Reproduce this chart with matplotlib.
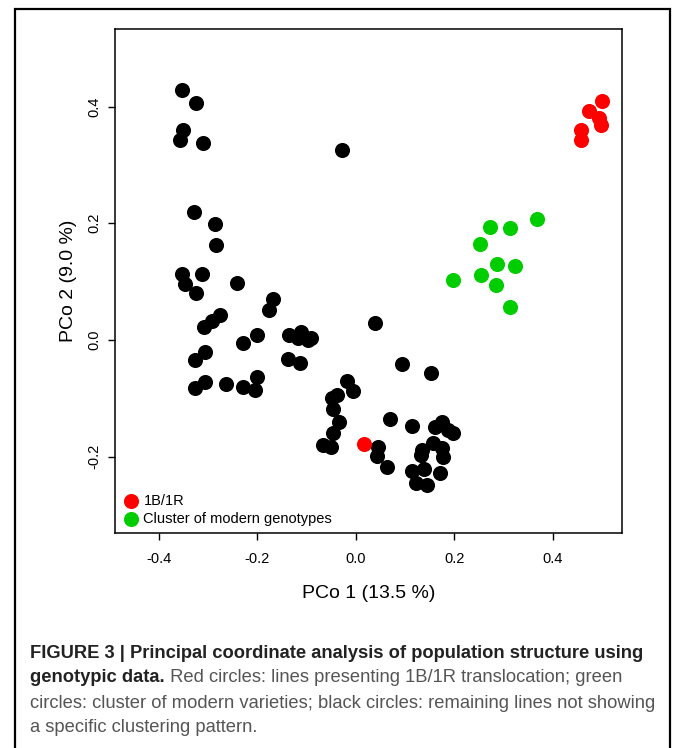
import numpy as np
import matplotlib.pyplot as plt
from matplotlib.patches import Rectangle

plt.rcParams['font.family'] = ['Liberation Sans', 'DejaVu Sans']

# PCo coordinates
black_x = [-0.354, -0.325, -0.351, -0.357, -0.310, -0.029, -0.328, -0.286, -0.283,
           -0.354, -0.347, -0.313, -0.325, -0.242, -0.169, -0.176, -0.276, -0.293,
           -0.309, 0.039, -0.200, -0.230, -0.135, -0.112, -0.117, -0.092, -0.098,
           -0.307, -0.327, -0.137, -0.114, -0.307, -0.327, -0.263, -0.229, -0.200,
           -0.205, -0.018, -0.005, -0.038, -0.049, -0.046, -0.034, -0.047, -0.066,
           -0.051, 0.093, 0.152, 0.070, 0.113, 0.045, 0.042, 0.064, 0.160, 0.174,
           0.196, 0.186, 0.157, 0.135, 0.133, 0.174, 0.177, 0.171, 0.113, 0.138,
           0.122, 0.144]
black_y = [0.429, 0.407, 0.360, 0.342, 0.337, 0.325, 0.220, 0.199, 0.163,
           0.113, 0.096, 0.113, 0.081, 0.098, 0.070, 0.051, 0.043, 0.033,
           0.022, 0.029, 0.009, -0.006, 0.009, 0.014, 0.003, 0.003, -0.001,
           -0.020, -0.034, -0.033, -0.040, -0.072, -0.083, -0.075, -0.081, -0.064,
           -0.086, -0.070, -0.087, -0.094, -0.100, -0.119, -0.140, -0.160, -0.180,
           -0.184, -0.041, -0.056, -0.136, -0.147, -0.183, -0.199, -0.218, -0.150, -0.140,
           -0.160, -0.154, -0.177, -0.189, -0.197, -0.186, -0.200, -0.229, -0.224, -0.222,
           -0.245, -0.249]

red_x = [0.499, 0.473, 0.494, 0.497, 0.457, 0.457, 0.017]
red_y = [0.409, 0.393, 0.380, 0.369, 0.360, 0.342, -0.178]

green_x = [0.368, 0.273, 0.313, 0.252, 0.287, 0.323, 0.253, 0.196, 0.284, 0.313]
green_y = [0.208, 0.194, 0.191, 0.164, 0.130, 0.127, 0.111, 0.102, 0.095, 0.057]

legend_labels = ['1B/1R', 'Cluster of modern genotypes']
xticks = [-0.4, -0.2, 0.0, 0.2, 0.4]
yticks = [-0.2, 0.0, 0.2, 0.4]

W, H = 673, 748
fig = plt.figure(figsize=(W / 100, H / 100), dpi=100)

# outer frame of the figure panel
fig.patches.append(Rectangle((15 / W, -0.02), 655 / W, 1.02 - 9 / H, transform=fig.transFigure,
                             fill=False, edgecolor='black', linewidth=1.6))

ax = fig.add_axes([115 / W, 1 - 533 / H, 507 / W, 504 / H])
ms = 118
ax.scatter(black_x, black_y, s=ms, color='black', linewidths=0)
ax.scatter(red_x, red_y, s=ms, color='#ff0000', linewidths=0, label=legend_labels[0])
ax.scatter(green_x, green_y, s=ms, color='#00cd00', linewidths=0, label=legend_labels[1])

ax.set_xlim(-0.489, 0.540)
ax.set_ylim(-0.331, 0.533)
ax.set_xticks(xticks)
ax.set_xticklabels(['%.1f' % t for t in xticks])
ax.set_yticks(yticks)
ax.set_yticklabels(['%.1f' % t for t in yticks], rotation=90, va='center')
ax.tick_params(direction='out', length=5, width=1, labelsize=10.5)
ax.tick_params(axis='x', pad=9)
ax.tick_params(axis='y', pad=5)
for sp in ax.spines.values():
    sp.set_linewidth(1.1)

ax.set_xlabel('PCo 1 (13.5 %)', fontsize=14, labelpad=13)
ax.set_ylabel('PCo 2 (9.0 %)', fontsize=14, labelpad=7)

ax.legend(loc='lower left', frameon=False, fontsize=10.5, handletextpad=0.35,
          borderaxespad=0.2, labelspacing=0.3, handlelength=1.0,
          bbox_to_anchor=(0.0, -0.004))

# caption
cx = 30 / W
fs = 13.2
bold_col = '#222222'
reg_col = '#555555'
fig.text(cx, 1 - 653 / H, 'FIGURE 3 | Principal coordinate analysis of population structure using',
         fontsize=fs, fontweight='bold', color=bold_col, va='center')
t2 = fig.text(cx, 1 - 678 / H, 'genotypic data.', fontsize=fs, fontweight='bold',
              color=bold_col, va='center')
ax.annotate(' Red circles: lines presenting 1B/1R translocation; green', xy=(1, 0),
            xycoords=t2, va='bottom', ha='left', fontsize=fs, color=reg_col,
            annotation_clip=False)
fig.text(cx, 1 - 703 / H, 'circles: cluster of modern varieties; black circles: remaining lines not showing',
         fontsize=fs, color=reg_col, va='center')
fig.text(cx, 1 - 728 / H, 'a specific clustering pattern.', fontsize=fs, color=reg_col, va='center')

fig.savefig('out.png', dpi=100)
